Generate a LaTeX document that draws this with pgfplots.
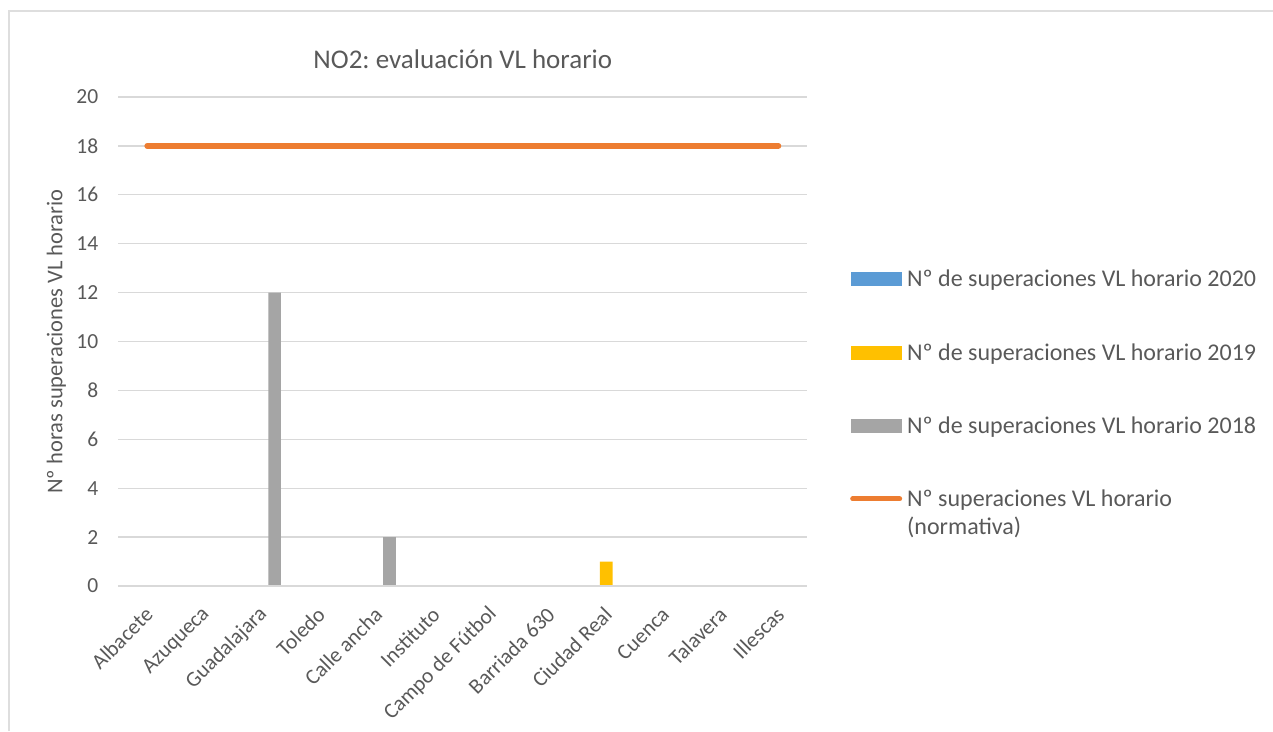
\documentclass[border=0pt]{standalone}
\usepackage{fontspec}
\setmainfont{Carlito}
\usepackage{pgfplots}
\pgfplotsset{compat=1.18}
\definecolor{txt}{RGB}{89,89,89}
\definecolor{gridc}{RGB}{217,217,217}
\definecolor{c2020}{RGB}{91,155,213}
\definecolor{c2019}{RGB}{255,192,0}
\definecolor{c2018}{RGB}{165,165,165}
\definecolor{cnorm}{RGB}{237,125,49}
\frenchspacing
\begin{document}
\begin{tikzpicture}[x=1pt,y=1pt]
\path[use as bounding box] (0,0) rectangle (1273,731);
\draw[color=black!13, line width=1.2pt] (9,0)--(9,720)--(1273,720);
\begin{axis}[
  at={(118.4pt,145pt)}, anchor=south west,
  scale only axis, width=688.8pt, height=489pt,
  xmin=-0.5, xmax=11.5, ymin=0, ymax=20,
  ytick={0,2,...,20},
  xtick={0,...,11},
  xticklabels={Albacete,Azuqueca,Guadalajara,Toledo,Calle ancha,Instituto,Campo de Fútbol,Barriada 630,Ciudad Real,Cuenca,Talavera,Illescas},
  axis line style={draw=none},
  major tick style={draw=none},
  ymajorgrids, grid style={color=gridc, line width=1.4pt},
  ticklabel style={font=\fontsize{21.5}{25}\selectfont, text=txt},
  /pgf/number format/assume math mode=true,
  yticklabel style={anchor=east, inner sep=0pt, xshift=-20pt},
  xticklabel style={inner sep=0pt, yshift=-25pt, xshift=2pt, rotate=45, anchor=east},
  title={NO2: evaluación VL horario},
  title style={at={(axis description cs:0.5,1.0654)}, anchor=center, font=\fontsize{27}{31}\selectfont, text=txt},
  ylabel={Nº horas superaciones VL horario},
  ylabel style={at={(axis description cs:-0.0899,0.5)}, anchor=center, font=\fontsize{22.5}{26}\selectfont, text=txt},
  legend style={at={(axis description cs:1.0621,0.646)}, anchor=north west, draw=none, fill=none,
    inner sep=0pt, row sep=55pt, column sep=5pt,
    font=\fontsize{24}{28}\selectfont, text=txt,
    nodes={inner sep=0pt}, cells={align=left}},
  legend cell align=left,
  clip=false,
]
\addplot[ybar, bar width=12.7pt, bar shift=-12.7pt, fill=c2020, draw=none,
  legend image code/.code={\fill (0pt,-7pt) rectangle (51pt,7pt);}]
  coordinates {(0,0) (1,0) (2,0) (3,0) (4,0) (5,0) (6,0) (7,0) (8,0) (9,0) (10,0) (11,0)};
\addlegendentry{Nº de superaciones VL horario 2020}
\addplot[ybar, bar width=12.7pt, bar shift=0pt, fill=c2019, draw=none,
  legend image code/.code={\fill (0pt,-7pt) rectangle (51pt,7pt);}]
  coordinates {(0,0) (1,0) (2,0) (3,0) (4,0) (5,0) (6,0) (7,0) (8,1) (9,0) (10,0) (11,0)};
\addlegendentry{Nº de superaciones VL horario 2019}
\addplot[ybar, bar width=12.7pt, bar shift=12.7pt, fill=c2018, draw=none,
  legend image code/.code={\fill (0pt,-7pt) rectangle (51pt,7pt);}]
  coordinates {(0,0) (1,0) (2,12) (3,0) (4,2) (5,0) (6,0) (7,0) (8,0) (9,0) (10,0) (11,0)};
\addlegendentry{Nº de superaciones VL horario 2018}
\addplot[forget plot, sharp plot, color=gridc, line width=1.4pt, mark=none]
  coordinates {(-0.5,0) (11.5,0)};
\addplot[sharp plot, color=cnorm, line width=5.5pt, line cap=round, mark=none,
  legend image code/.code={\draw[line width=5pt, line cap=round] (2pt,14pt)--(49pt,14pt);}]
  coordinates {(0,18) (1,18) (2,18) (3,18) (4,18) (5,18) (6,18) (7,18) (8,18) (9,18) (10,18) (11,18)};
\addlegendentry{Nº superaciones VL horario\\(normativa)}
\end{axis}
\end{tikzpicture}
\end{document}
